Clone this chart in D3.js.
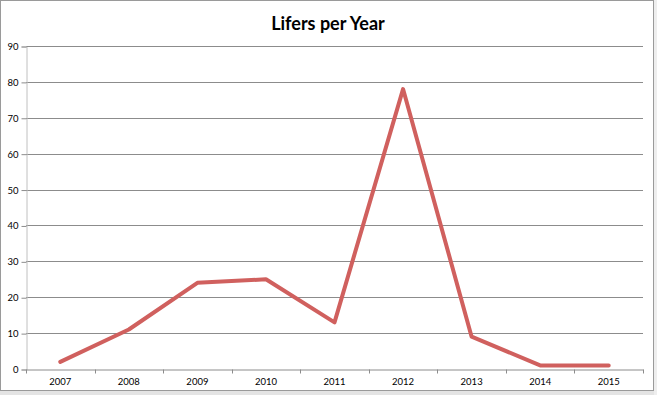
<!DOCTYPE html>
<html>
<head>
<meta charset="utf-8">
<script src="https://cdn.jsdelivr.net/npm/d3@7"></script>
<style>
  body { margin: 0; background: #fff; }
  text { font-family: Lato, "Open Sans", sans-serif; }
</style>
</head>
<body>
<script>
// data
var years = ["2007", "2008", "2009", "2010", "2011", "2012", "2013", "2014", "2015"];
var lifers = [2, 11, 24, 25, 13, 78, 9, 1, 1];
var yTicks = [0, 10, 20, 30, 40, 50, 60, 70, 80, 90];

// set up variables
var canvasWidth = 657,
    canvasHeight = 395,
    margin = {top: 46, right: 15, bottom: 26, left: 26},
    plotWidth = 643 - margin.left,
    plotHeight = 369 - margin.top;

var figure = d3.select("body")
    .append("svg")
        .attr("width", canvasWidth)
        .attr("height", canvasHeight);

// sheet background strips and chart border
figure.append("rect")
    .attr("x", 0).attr("y", 391)
    .attr("width", canvasWidth).attr("height", 4)
    .attr("fill", "#e4e4e4");
figure.append("rect")
    .attr("x", 654).attr("y", 0)
    .attr("width", 3).attr("height", canvasHeight)
    .attr("fill", "#eeeeee");
figure.append("rect")
    .attr("x", 0.5).attr("y", 0.5)
    .attr("width", 653).attr("height", 390)
    .attr("fill", "#fff")
    .attr("stroke", "#9a9a9a");

var x = d3.scaleBand()
    .domain(years)
    .range([margin.left, margin.left + plotWidth]);

var y = d3.scaleLinear()
    .domain([0, 90])
    .range([margin.top + plotHeight, margin.top]);

// gridlines
figure.append("g")
    .attr("class", "grid")
    .selectAll("line")
    .data(yTicks.slice(1))
    .enter()
    .append("line")
    .attr("x1", margin.left)
    .attr("x2", margin.left + plotWidth)
    .attr("y1", function(d) { return Math.round(y(d)) + 0.5; })
    .attr("y2", function(d) { return Math.round(y(d)) + 0.5; })
    .attr("stroke", "#8c8c8c")
    .attr("stroke-width", 1);

// y axis
var yAxis = figure.append("g")
    .attr("transform", "translate(" + (margin.left + 0.5) + ", 0.5)")
    .call(d3.axisLeft(y).tickValues(yTicks).tickSize(5).tickPadding(3));
yAxis.select(".domain").attr("stroke", "#c0c0c0");
yAxis.selectAll(".tick line").attr("stroke", "#8c8c8c");
yAxis.selectAll("text")
    .attr("font-size", 9.5)
    .attr("fill", "#000");

// x axis with ticks between categories
var xAxis = figure.append("g")
    .attr("transform", "translate(0, " + (margin.top + plotHeight + 0.5) + ")")
    .call(d3.axisBottom(x).tickSize(0).tickPadding(9));
xAxis.select(".domain").attr("stroke", "#8c8c8c");
xAxis.selectAll("text")
    .attr("font-size", 9.5)
    .attr("fill", "#000");
xAxis.selectAll(".sep")
    .data(years.concat(["end"]))
    .enter()
    .append("line")
    .attr("class", "sep")
    .attr("x1", function(d, i) { return Math.round(margin.left + i * x.step()) + 0.5; })
    .attr("x2", function(d, i) { return Math.round(margin.left + i * x.step()) + 0.5; })
    .attr("y1", 0)
    .attr("y2", 4)
    .attr("stroke", "#8c8c8c");

// the line
var line = d3.line()
    .x(function(d, i) { return x(years[i]) + x.bandwidth() / 2; })
    .y(function(d) { return y(d); });

figure.append("path")
    .datum(lifers)
    .attr("d", line)
    .attr("fill", "none")
    .attr("stroke", "#d0605e")
    .attr("stroke-width", 4)
    .attr("stroke-linejoin", "round")
    .attr("stroke-linecap", "round");

// title
figure.append("text")
    .attr("x", 328)
    .attr("y", 30)
    .attr("text-anchor", "middle")
    .attr("font-size", 18)
    .attr("font-weight", "bold")
    .attr("fill", "#000")
    .text("Lifers per Year");
</script>
</body>
</html>
